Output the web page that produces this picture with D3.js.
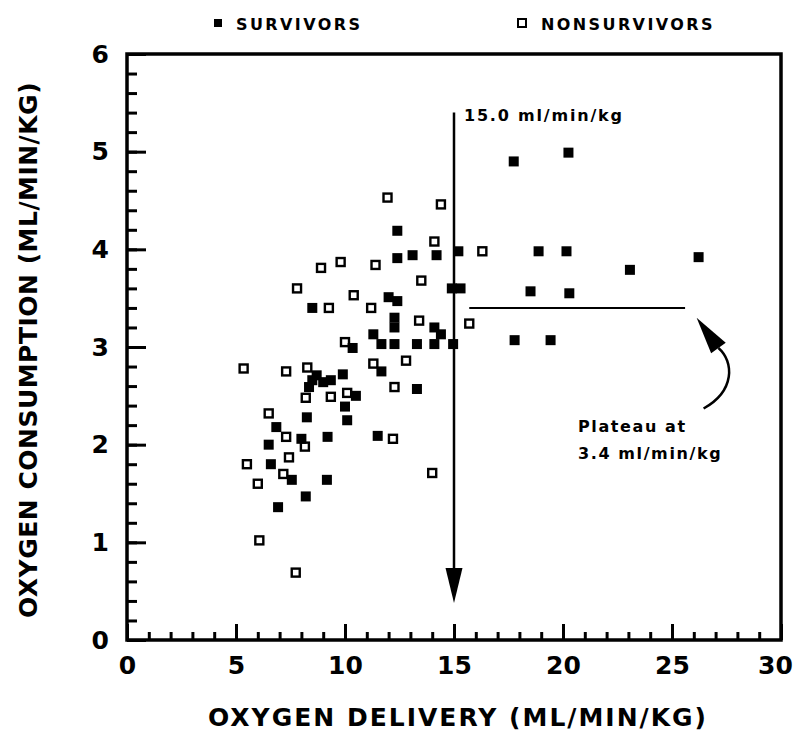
<!DOCTYPE html>
<html>
<head>
<meta charset="utf-8">
<script src="https://cdn.jsdelivr.net/npm/d3@7"></script>
<style>
  html, body { margin: 0; padding: 0; background: #fff; }
  svg text { font-family: "DejaVu Sans", sans-serif; font-weight: bold; fill: #000; }
</style>
</head>
<body>
<svg id="chart" width="800" height="731"></svg>
<script>
// Oxygen delivery (x) vs oxygen consumption (y), ml/min/kg
const survivorsDO2 = [12.4, 12.4, 13.1, 14.2, 15.2, 14.9, 15.3, 8.5, 12.0, 12.4, 12.27, 12.27, 14.1, 14.4, 11.3,
  10.35, 11.67, 12.27, 13.3, 14.1, 14.96, 11.67, 9.9, 8.7, 8.5, 9.0, 9.35, 8.35, 13.3, 10.5, 10.0, 10.1, 8.25,
  6.85, 6.5, 8.0, 9.2, 11.5, 6.6, 7.56, 9.17, 8.2, 6.93,
  17.74, 20.25, 18.88, 20.16, 23.07, 26.22, 18.51, 20.29, 17.78, 19.43];
const survivorsVO2 = [4.19, 3.91, 3.94, 3.94, 3.98, 3.60, 3.60, 3.40, 3.51, 3.47, 3.30, 3.20, 3.20, 3.13, 3.13,
  2.99, 3.03, 3.03, 3.03, 3.03, 3.03, 2.75, 2.72, 2.71, 2.66, 2.64, 2.66, 2.59, 2.57, 2.50, 2.39, 2.25, 2.28,
  2.18, 2.00, 2.06, 2.08, 2.09, 1.80, 1.64, 1.64, 1.47, 1.36,
  4.90, 4.99, 3.98, 3.98, 3.79, 3.92, 3.57, 3.55, 3.07, 3.07];

const nonsurvivorsDO2 = [11.95, 14.4, 14.1, 16.3, 9.8, 8.9, 11.4, 7.8, 10.4, 9.26, 11.2, 13.5, 13.4, 15.7, 10.0,
  12.8, 11.3, 5.35, 7.3, 8.27, 12.27, 8.2, 9.35, 10.1, 6.5, 7.3, 8.16, 12.2, 7.43, 5.5, 7.17, 6.0, 14.0, 6.07, 7.74];
const nonsurvivorsVO2 = [4.53, 4.46, 4.08, 3.98, 3.87, 3.81, 3.84, 3.60, 3.53, 3.40, 3.40, 3.68, 3.27, 3.24, 3.05,
  2.86, 2.83, 2.78, 2.75, 2.79, 2.59, 2.48, 2.49, 2.53, 2.32, 2.08, 1.98, 2.06, 1.87, 1.80, 1.70, 1.60, 1.71, 1.02, 0.69];

const xTickLabels = [0, 5, 10, 15, 20, 25, 30];
const yTickLabels = [0, 1, 2, 3, 4, 5, 6];
const legendLabels = ["SURVIVORS", "NONSURVIVORS"];

// Annotation values
const criticalDO2 = 15.0;          // vertical arrow
const criticalArrowTop = 5.4;
const criticalArrowTip = 0.38;
const plateauVO2 = 3.4;            // horizontal plateau line
const plateauFrom = 15.7, plateauTo = 25.6;

const svg = d3.select("#chart");
const frameLeft = 127, frameRight = 781, frameTop = 54, frameBottom = 640;

const x = d3.scaleLinear().domain([0, 30]).range([frameLeft, frameRight]);
const y = d3.scaleLinear().domain([0, 6]).range([frameBottom, frameTop]);

// Minor ticks (no labels)
svg.append("g")
  .attr("transform", `translate(0,${frameBottom})`)
  .call(d3.axisBottom(x).tickValues(d3.range(0, 31, 1)).tickSize(-8).tickSizeOuter(0).tickFormat(""))
  .call(g => g.select(".domain").remove());
svg.append("g")
  .attr("transform", `translate(${frameLeft},0)`)
  .call(d3.axisLeft(y).tickValues(d3.range(0, 30).map(i => i * 0.2)).tickSize(-10).tickSizeOuter(0).tickFormat(""))
  .call(g => g.select(".domain").remove());

// Major ticks with labels
const xMajor = svg.append("g")
  .attr("transform", `translate(0,${frameBottom})`)
  .call(d3.axisBottom(x).tickValues(xTickLabels).tickSize(-16).tickSizeOuter(0).tickPadding(16).tickFormat(d3.format("d")));
svg.append("g")
  .attr("transform", `translate(${frameLeft},0)`)
  .call(d3.axisLeft(y).tickValues(yTickLabels).tickSize(-19).tickSizeOuter(0).tickPadding(18).tickFormat(d3.format("d")));

svg.selectAll(".domain").remove();
svg.selectAll(".tick line").attr("stroke", "#000").attr("stroke-width", 3);
svg.selectAll(".tick text").style("font-size", "25px").style("font-family", "'DejaVu Sans', sans-serif")
  .style("font-weight", "bold").attr("fill", "#000");
// last label sits just inside the page edge
xMajor.selectAll(".tick text").filter(d => d === 30).attr("dx", "-6");

// Frame
svg.append("rect")
  .attr("x", frameLeft).attr("y", frameTop)
  .attr("width", frameRight - frameLeft).attr("height", frameBottom - frameTop)
  .attr("fill", "none").attr("stroke", "#000").attr("stroke-width", 3.5);

// Axis titles
svg.append("text")
  .attr("x", (frameLeft + frameRight) / 2 + 4).attr("y", 726)
  .attr("text-anchor", "middle")
  .style("font-size", "25px").style("letter-spacing", "2px")
  .text("OXYGEN DELIVERY (ML/MIN/KG)");
svg.append("text")
  .attr("transform", `translate(37,${(frameTop + frameBottom) / 2 + 3}) rotate(-90)`)
  .attr("text-anchor", "middle")
  .style("font-size", "25px").style("letter-spacing", "0.5px")
  .text("OXYGEN CONSUMPTION (ML/MIN/KG)");

// Legend
const legend = svg.append("g");
legend.append("rect").attr("x", 214).attr("y", 19).attr("width", 8).attr("height", 8).attr("fill", "#000");
legend.append("text").attr("x", 236).attr("y", 30).style("font-size", "16px").style("letter-spacing", "2.4px").text(legendLabels[0]);
legend.append("rect").attr("x", 518).attr("y", 19).attr("width", 8).attr("height", 8)
  .attr("fill", "#fff").attr("stroke", "#000").attr("stroke-width", 2);
legend.append("text").attr("x", 541).attr("y", 30).style("font-size", "16px").style("letter-spacing", "2.4px").text(legendLabels[1]);

// Critical delivery arrow
const ax = x(criticalDO2);
const tipY = y(criticalArrowTip);
const headLen = 35, headHalf = 8.5;
svg.append("line")
  .attr("x1", ax).attr("x2", ax)
  .attr("y1", y(criticalArrowTop)).attr("y2", tipY - headLen + 2)
  .attr("stroke", "#000").attr("stroke-width", 2.5);
svg.append("path")
  .attr("d", `M${ax - headHalf},${tipY - headLen} L${ax + headHalf},${tipY - headLen} L${ax},${tipY} Z`)
  .attr("fill", "#000");
svg.append("text")
  .attr("x", ax + 10).attr("y", y(criticalArrowTop) + 8)
  .style("font-size", "16px").style("letter-spacing", "1.8px")
  .text(`${criticalDO2.toFixed(1)} ml/min/kg`);

// Plateau line
svg.append("line")
  .attr("x1", x(plateauFrom)).attr("x2", x(plateauTo))
  .attr("y1", y(plateauVO2)).attr("y2", y(plateauVO2))
  .attr("stroke", "#000").attr("stroke-width", 2);

// Curved pointer to the plateau
const tail = [x(26.45), y(2.37)];
const c1 = [x(27.9), y(2.55)];
const c2 = [x(27.85), y(2.85)];
const headBase = [x(27.13), y(2.99)];
const headTip = [x(26.13), y(3.30)];
const p = d3.path();
p.moveTo(...tail);
p.bezierCurveTo(...c1, ...c2, ...headBase);
svg.append("path").attr("d", p.toString()).attr("fill", "none").attr("stroke", "#000").attr("stroke-width", 2.5);
{
  const dx = headTip[0] - headBase[0], dy = headTip[1] - headBase[1];
  const len = Math.hypot(dx, dy);
  const nx = -dy / len * 9, ny = dx / len * 9;
  const b0 = [headBase[0] + nx, headBase[1] + ny];
  const b1 = [headBase[0] - nx, headBase[1] - ny];
  svg.append("path").attr("d", `M${b0} L${headTip} L${b1} Z`).attr("fill", "#000");
}
svg.append("text").attr("x", 578).attr("y", 432).style("font-size", "16px").style("letter-spacing", "1.6px").text("Plateau at");
svg.append("text").attr("x", 578).attr("y", 459).style("font-size", "16px").style("letter-spacing", "1.6px")
  .text(`${plateauVO2.toFixed(1)} ml/min/kg`);

// Points
const size = 10;
const survivors = survivorsDO2.map((d, i) => ({ x: d, y: survivorsVO2[i] }));
const nonsurvivors = nonsurvivorsDO2.map((d, i) => ({ x: d, y: nonsurvivorsVO2[i] }));

svg.append("g").selectAll("rect")
  .data(nonsurvivors).join("rect")
  .attr("x", d => x(d.x) - (size - 2) / 2).attr("y", d => y(d.y) - (size - 2) / 2)
  .attr("width", size - 2).attr("height", size - 2)
  .attr("fill", "#fff").attr("stroke", "#000").attr("stroke-width", 2.4);

svg.append("g").selectAll("rect")
  .data(survivors).join("rect")
  .attr("x", d => x(d.x) - size / 2).attr("y", d => y(d.y) - size / 2)
  .attr("width", size).attr("height", size)
  .attr("fill", "#000");
</script>
</body>
</html>
